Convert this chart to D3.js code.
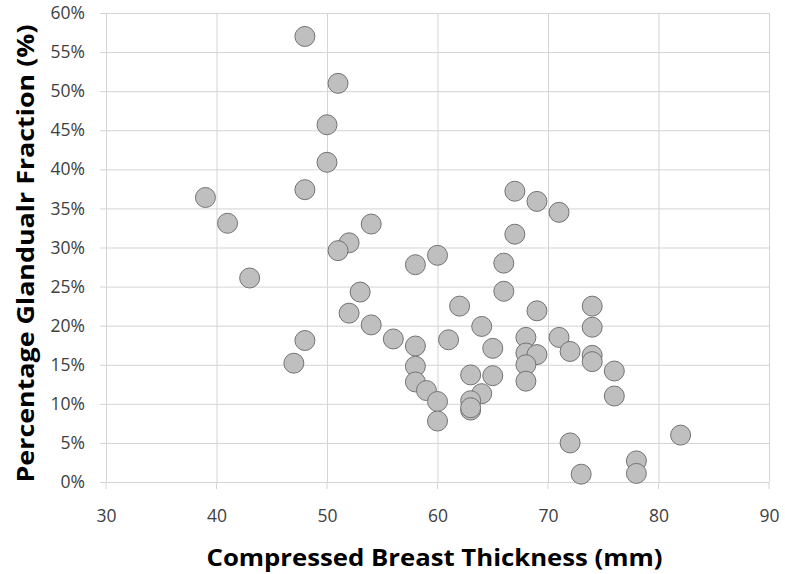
<!DOCTYPE html>
<html>
<head>
<meta charset="utf-8">
<script src="https://cdn.jsdelivr.net/npm/d3@7"></script>
<style>
  body { margin: 0; background: #fff; }
  .tick text { font-family: 'Open Sans', sans-serif; fill: #404040; }
</style>
</head>
<body>
<div id="chart"></div>
<script>
// thickness (mm) and glandular fraction (%)
const thickness = [48, 51, 50, 50, 48, 39, 41, 54, 52, 51, 43, 67, 69, 71, 67, 60, 58, 66, 53, 66,
  52, 54, 56, 48, 47, 62, 69, 74, 64, 74, 61, 58, 68, 71, 65, 68, 69, 72, 74, 74,
  68, 58, 76, 63, 65, 68, 58, 59, 64, 76, 60, 63, 63, 63, 60, 72, 82, 78, 78, 73]
const fraction = [57.0, 51.0, 45.7, 40.9, 37.4, 36.4, 33.1, 33.0, 30.6, 29.6, 26.1, 37.2, 35.9, 34.5, 31.7, 29.0, 27.8, 28.0, 24.3, 24.4,
  21.6, 20.1, 18.3, 18.1, 15.2, 22.5, 21.9, 22.5, 19.9, 19.8, 18.2, 17.4, 18.5, 18.5, 17.1, 16.5, 16.3, 16.7, 16.2, 15.4,
  15.0, 14.8, 14.2, 13.7, 13.6, 12.9, 12.8, 11.7, 11.3, 11.0, 10.3, 10.4, 9.2, 9.5, 7.8, 5.0, 6.0, 2.7, 1.1, 1.0]

const xTicks = [30, 40, 50, 60, 70, 80, 90]
const yTicks = [0, 5, 10, 15, 20, 25, 30, 35, 40, 45, 50, 55, 60]

const datapoints = thickness.map((d, i) => ({ x: d, y: fraction[i] }))

const margin = { top: 13, right: 16, bottom: 92, left: 106 }
const width = 785 - margin.left - margin.right
const height = 574 - margin.top - margin.bottom

const svg = d3
  .select('#chart')
  .append('svg')
  .attr('width', 785)
  .attr('height', 574)
  .append('g')
  .attr('transform', 'translate(' + margin.left + ',' + margin.top + ')')

const xPositionScale = d3.scaleLinear().domain([30, 90]).range([0, width])
const yPositionScale = d3.scaleLinear().domain([0, 60]).range([height, 0])

// gridlines
const yAxis = d3
  .axisLeft(yPositionScale)
  .tickValues(yTicks)
  .tickSize(-width - 6)
  .tickPadding(15)
  .tickFormat(d => d + '%')

svg
  .append('g')
  .attr('class', 'axis y-axis')
  .attr('transform', 'translate(-6,0)')
  .call(yAxis)

const xAxis = d3
  .axisBottom(xPositionScale)
  .tickValues(xTicks)
  .tickSize(-height)
  .tickPadding(28)

svg
  .append('g')
  .attr('class', 'axis x-axis')
  .attr('transform', 'translate(0,' + height + ')')
  .call(xAxis)

// little tick stubs below the axis
svg
  .selectAll('.x-stub')
  .data(xTicks)
  .enter()
  .append('line')
  .attr('x1', d => xPositionScale(d))
  .attr('x2', d => xPositionScale(d))
  .attr('y1', height)
  .attr('y2', height + 7)
  .attr('stroke', '#d4d4d4')

svg.selectAll('.domain').remove()
svg.selectAll('.tick line').attr('stroke', '#d4d4d4')
svg.selectAll('.tick text').attr('font-size', 17.5)

svg
  .selectAll('circle')
  .data(datapoints)
  .enter()
  .append('circle')
  .attr('cx', d => xPositionScale(d.x))
  .attr('cy', d => yPositionScale(d.y))
  .attr('r', 10)
  .attr('fill', '#bfbfbf')
  .attr('stroke', '#737373')
  .attr('stroke-width', 1)

svg
  .append('text')
  .attr('x', width / 2 - 3)
  .attr('y', height + 84)
  .attr('text-anchor', 'middle')
  .attr('font-family', "'Open Sans', sans-serif")
  .attr('font-weight', 'bold')
  .attr('font-size', 24)
  .attr('textLength', 456)
  .attr('lengthAdjust', 'spacingAndGlyphs')
  .text('Compressed Breast Thickness (mm)')

svg
  .append('text')
  .attr('transform', 'translate(-72,' + (height / 2 + 6) + ') rotate(-90)')
  .attr('text-anchor', 'middle')
  .attr('font-family', "'Open Sans', sans-serif")
  .attr('font-weight', 'bold')
  .attr('font-size', 24)
  .attr('textLength', 458)
  .attr('lengthAdjust', 'spacingAndGlyphs')
  .text('Percentage Glandualr Fraction (%)')
</script>
</body>
</html>
